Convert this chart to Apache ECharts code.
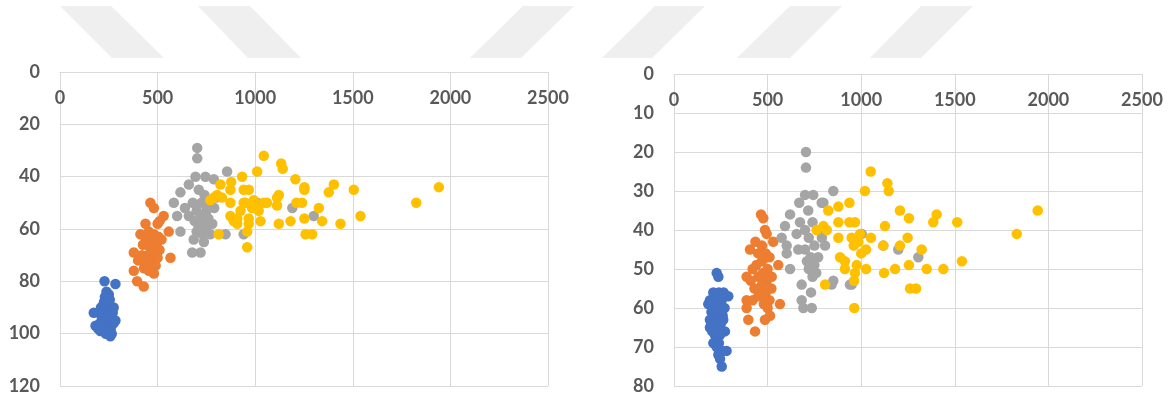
<!DOCTYPE html>
<html>
<head>
<meta charset="utf-8">
<script src="https://cdn.jsdelivr.net/npm/echarts@6/dist/echarts.min.js"></script>
<style>
  html, body { margin: 0; padding: 0; background: #ffffff; }
  #chart { width: 1172px; height: 399px; }
</style>
</head>
<body>
<div id="chart"></div>
<script>
// Tick settings for the two panels
const xTicks = { min: 0, max: 2500, interval: 500 };
const leftYTicks = { min: 0, max: 120, interval: 20 };
const rightYTicks = { min: 0, max: 80, interval: 10 };

const seriesNames = ['Group 1', 'Group 2', 'Group 3', 'Group 4'];
const seriesColors = ['#4472C4', '#ED7D31', '#A5A5A5', '#FFC000'];

// Left panel: [x, y] pairs per group
const leftBlue = [[228,80],[284,81],[238,84],[250,85],[230,86],[245,89],[225,88],[255,87],[210,90],[235,90],[260,90],[275,90],
  [173,92],[200,92],[220,92],[245,92],[270,92],[215,94],[240,94],[255,95],[284,95],[205,96],[230,96],[275,96],[182,97],
  [195,98],[215,98],[240,98],[260,98],[207,99],[225,99],[250,100],[265,100],[258,101],[235,100],[220,95],[250,93]];
const leftOrange = [[463,50],[481,52],[531,55],[438,58],[500,58],[510,57],[557,61],[412,62],[455,61],[480,62],[505,63],
  [520,64],[440,64],[470,65],[495,66],[425,66],[460,67],[485,68],[510,68],[378,69],[420,70],[450,70],[475,70],[500,71],
  [566,71],[400,72],[440,72],[465,73],[490,74],[430,75],[378,76],[481,77],[455,76],[395,80],[429,82]];
const leftGray = [[703,29],[703,33],[856,38],[694,40],[745,40],[788,41],[660,43],[711,45],[617,46],[740,47],[800,48],
  [583,50],[680,50],[725,50],[765,50],[640,52],[700,53],[750,53],[790,52],[600,55],[660,55],[720,55],[760,56],[690,57],
  [740,58],[780,58],[710,59],[750,60],[617,61],[700,61],[848,62],[941,62],[770,62],[730,62],[685,64],[737,65],[720,69],
  [677,69],[1190,52],[1300,55],[1010,50]];
const leftYellow = [[1044,32],[1010,38],[1133,35],[1141,37],[1206,41],[822,43],[877,42],[933,40],[873,45],[941,45],[967,45],
  [788,48],[805,47],[770,49],[830,48],[873,50],[950,50],[941,50],[993,49],[1044,50],[1060,50],[1112,48],[1112,51],[984,52],
  [1000,52],[1018,53],[925,53],[873,55],[908,56],[908,58],[890,57],[967,56],[967,58],[1027,57],[1121,58],[1181,57],
  [813,62],[959,67],[959,61],[1252,44],[1252,45],[1403,43],[1377,46],[1505,45],[1941,44],[1825,50],[1211,50],[1240,50],
  [1326,52],[1252,56],[1343,57],[1437,58],[1539,55],[1258,62],[1292,62],[1121,47]];

// Right panel: [x, y] pairs per group
const rightBlue = [[228,51],[237,52],[210,56],[240,56],[265,56],[290,57],[192,58],[225,58],[255,58],[183,59],[215,60],
  [246,60],[270,60],[200,61],[235,62],[260,62],[192,63],[220,63],[250,64],[263,63],[200,64],[192,65],[230,65],[272,66],
  [205,66],[219,67],[245,67],[210,69],[240,69],[228,70],[281,71],[260,71],[237,72],[246,73],[255,75]];
const rightOrange = [[465,36],[477,37],[486,40],[495,41],[435,43],[530,43],[470,44],[406,45],[450,46],[490,46],[510,47],
  [470,48],[557,49],[440,49],[500,50],[420,50],[475,51],[522,52],[388,52],[450,52],[495,53],[410,53],[470,54],[520,55],
  [430,55],[455,55],[490,56],[468,57],[388,58],[450,57],[510,58],[566,59],[480,59],[420,58],[388,60],[500,60],[513,62],
  [486,63],[397,63],[433,66]];
const rightGray = [[705,20],[705,24],[851,30],[700,31],[744,31],[669,33],[789,33],[798,33],[620,36],[717,35],[673,38],
  [740,38],[593,39],[700,40],[770,40],[655,41],[575,42],[720,42],[790,42],[602,44],[750,44],[807,44],[664,45],[700,45],
  [602,46],[730,47],[770,47],[710,48],[750,49],[620,50],[720,50],[760,51],[740,52],[682,54],[851,53],[842,54],[732,56],
  [682,58],[691,60],[736,60],[949,54],[1003,41],[1118,44],[1198,45],[1305,47],[940,54]];
const rightYellow = [[1051,25],[1140,28],[1147,30],[1020,30],[1207,35],[937,33],[878,34],[824,35],[1255,37],[1403,36],
  [1385,38],[1513,38],[878,38],[937,38],[967,38],[798,39],[816,40],[762,40],[1127,39],[994,41],[878,42],[949,42],[985,43],
  [1052,42],[960,44],[1026,45],[1000,46],[1118,44],[1207,44],[1248,42],[1323,45],[887,47],[913,48],[913,50],[976,49],
  [967,51],[1026,50],[1122,51],[1181,50],[1255,49],[1350,50],[1439,50],[1538,48],[962,53],[807,54],[1261,55],[1293,55],
  [963,60],[1943,35],[1831,41]];

const leftData = [leftBlue, leftOrange, leftGray, leftYellow];
const rightData = [rightBlue, rightOrange, rightGray, rightYellow];

const labelStyle = {
  color: '#595959',
  fontFamily: 'Lato, "Open Sans", sans-serif',
  fontWeight: 'bold',
  fontSize: 18,
  formatter: v => String(v)
};
const gridLine = { show: true, lineStyle: { color: '#d9d9d9', width: 1 } };

function xAxisFor(gridIndex) {
  return {
    type: 'value', gridIndex, position: 'top',
    min: xTicks.min, max: xTicks.max, interval: xTicks.interval,
    axisLine: { show: true, lineStyle: { color: '#d9d9d9' } },
    axisTick: { show: false },
    axisLabel: Object.assign({ inside: true, margin: 17 }, labelStyle),
    splitLine: gridLine
  };
}
function yAxisFor(gridIndex, ticks) {
  return {
    type: 'value', gridIndex, inverse: true,
    min: ticks.min, max: ticks.max, interval: ticks.interval,
    axisLine: { show: false },
    axisTick: { show: false },
    axisLabel: Object.assign({ margin: 20 }, labelStyle),
    splitLine: gridLine
  };
}

const series = [];
[leftData, rightData].forEach((panel, gi) => {
  panel.forEach((points, si) => {
    series.push({
      type: 'scatter', name: seriesNames[si],
      xAxisIndex: gi, yAxisIndex: gi,
      data: points, symbolSize: 10.5,
      itemStyle: { color: seriesColors[si], opacity: 1 },
      emphasis: { disabled: true }
    });
  });
});

// Light diagonal bands across the top of the page
const bandShapes = [
  [[60,6],[111,6],[164,58],[112,58]],
  [[198,6],[250,6],[301,58],[248,58]],
  [[523,6],[574,6],[521,58],[470,58]],
  [[655,6],[705,6],[652,58],[602,58]],
  [[790,6],[842,6],[790,58],[737,58]],
  [[921,6],[973,6],[921,58],[870,58]]
];

const chart = echarts.init(document.getElementById('chart'), null, { renderer: 'canvas' });
chart.setOption({
  animation: false,
  backgroundColor: '#ffffff',
  graphic: bandShapes.map(pts => ({
    type: 'polygon', z: -10, silent: true,
    shape: { points: pts },
    style: { fill: '#efefef' }
  })),
  grid: [
    { left: 60, top: 72, width: 488, height: 314 },
    { left: 674, top: 74, width: 468, height: 312 }
  ],
  xAxis: [xAxisFor(0), xAxisFor(1)],
  yAxis: [yAxisFor(0, leftYTicks), yAxisFor(1, rightYTicks)],
  series
});
</script>
</body>
</html>
